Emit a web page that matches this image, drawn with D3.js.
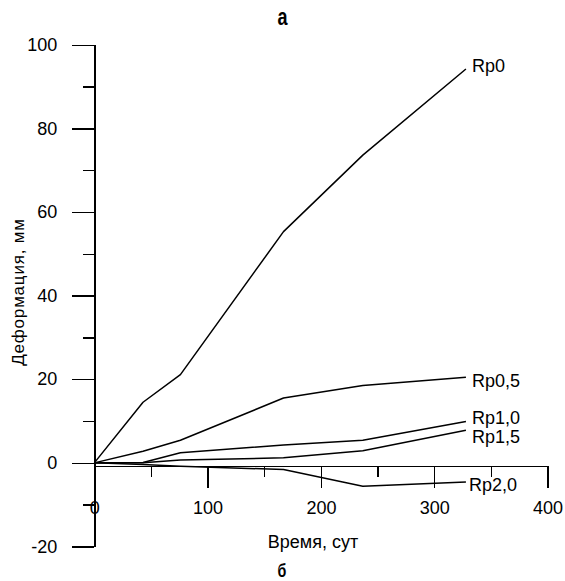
<!DOCTYPE html>
<html>
<head>
<meta charset="utf-8">
<script src="https://cdn.jsdelivr.net/npm/d3@7"></script>
<style>
  html, body { margin: 0; padding: 0; background: #fff; }
  svg { display: block; font-family: "Liberation Sans", Arimo, Arial, sans-serif; }
  .axis path, .axis line { stroke: #000; stroke-width: 1.4px; shape-rendering: crispEdges; }
  .axis text { font-size: 18px; fill: #000; font-family: "Liberation Sans", Arimo, Arial, sans-serif; }
</style>
</head>
<body>
<svg id="chart" width="565" height="581"></svg>
<script>
// Deformation versus time for each Rp value
const times = [0, 43, 76, 167, 237, 328];
const seriesNames = ["Rp0", "Rp0,5", "Rp1,0", "Rp1,5", "Rp2,0"];
const rp0   = [0, 14.5, 21.1, 55.3, 73.6, 94.2];
const rp05  = [0, 2.8, 5.4, 15.5, 18.5, 20.5];
const rp10  = [0, 0.1, 2.4, 4.3, 5.4, 9.9];
const rp15  = [0, 0.05, 0.7, 1.2, 2.9, 7.8];
const rp20  = [0, -0.4, -0.8, -1.6, -5.6, -4.6];
const seriesValues = [rp0, rp05, rp10, rp15, rp20];

// Axis ticks
const yMajorTicks = [-20, 0, 20, 40, 60, 80, 100];
const yMinorTicks = [-10, 10, 30, 50, 70, 90];
const xMajorTicks = [0, 100, 200, 300, 400];
const xMinorTicks = [50, 150, 250, 350];

const svg = d3.select("#chart");

const x = d3.scaleLinear().domain([0, 400]).range([94.3, 547.5]);
const y = d3.scaleLinear().domain([-20, 100]).range([546.5, 44.7]);

// the horizontal axis sits just below the zero line
const xAxisY = y(0) + 3;
const plain = d => String(d);

// vertical axis
svg.append("g").attr("class", "axis")
  .attr("transform", `translate(${x(0)},0)`)
  .call(d3.axisLeft(y).tickValues(yMajorTicks).tickSize(22).tickSizeOuter(0)
    .tickPadding(15).tickFormat(plain));
svg.append("g").attr("class", "axis minor")
  .attr("transform", `translate(${x(0)},0)`)
  .call(d3.axisLeft(y).tickValues(yMinorTicks).tickSize(11).tickSizeOuter(0).tickFormat(""))
  .call(g => g.select(".domain").remove());

// horizontal axis
svg.append("g").attr("class", "axis")
  .attr("transform", `translate(0,${xAxisY})`)
  .call(d3.axisBottom(x).tickValues(xMajorTicks).tickSize(22).tickSizeOuter(0)
    .tickPadding(13).tickFormat(plain));
svg.append("g").attr("class", "axis minor")
  .attr("transform", `translate(0,${xAxisY})`)
  .call(d3.axisBottom(x).tickValues(xMinorTicks).tickSize(11).tickSizeOuter(0).tickFormat(""))
  .call(g => g.select(".domain").remove());

// curves
const line = d3.line()
  .x((d, i) => x(times[i]))
  .y(d => y(d));

svg.append("g").selectAll("path")
  .data(seriesValues)
  .join("path")
  .attr("d", d => line(d))
  .attr("fill", "none")
  .attr("stroke", "#000")
  .attr("stroke-width", 1.5)
  .attr("stroke-linejoin", "round");

// end-of-line labels, nudged vertically so they do not collide
const labelShiftY = [-3, 4, -4, 6, 3];
const labelShiftX = [6, 6, 6, 6, 3];
svg.append("g").selectAll("text")
  .data(seriesNames)
  .join("text")
  .attr("x", (d, i) => x(times[times.length - 1]) + labelShiftX[i])
  .attr("y", (d, i) => y(seriesValues[i][seriesValues[i].length - 1]) + labelShiftY[i])
  .attr("dy", "0.35em")
  .attr("font-size", 18)
  .text(d => d);

// axis titles
svg.append("text")
  .attr("transform", "translate(23.5,292) rotate(-90)")
  .attr("text-anchor", "middle")
  .attr("font-size", 17)
  .attr("letter-spacing", 0.8)
  .text("Деформация, мм");

svg.append("text")
  .attr("x", 313).attr("y", 548)
  .attr("text-anchor", "middle")
  .attr("font-size", 18)
  .text("Время, сут");

// panel letters
svg.append("text")
  .attr("transform", "translate(282.5,25) scale(0.75,1)")
  .attr("text-anchor", "middle")
  .attr("font-size", 24)
  .attr("font-weight", "bold")
  .text("а");

svg.append("text")
  .attr("transform", "translate(282,577) scale(0.75,1)")
  .attr("text-anchor", "middle")
  .attr("font-size", 19)
  .attr("font-weight", "bold")
  .text("б");
</script>
</body>
</html>
